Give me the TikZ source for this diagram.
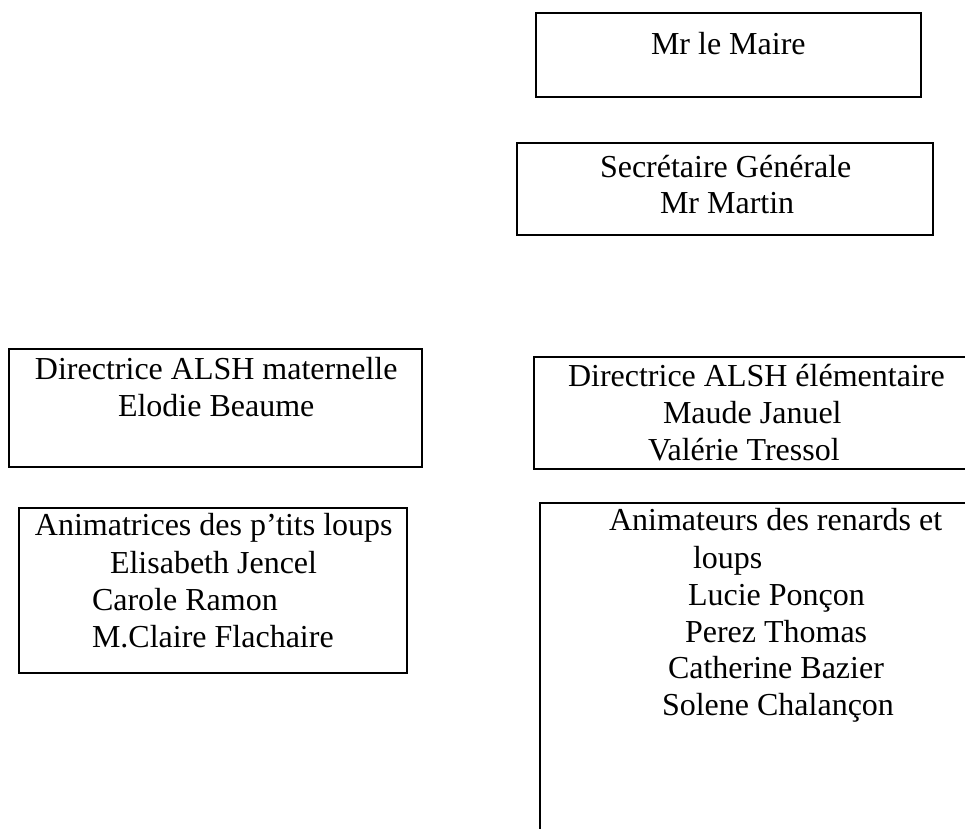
\documentclass[tikz,border=0pt]{standalone}
\usepackage{fontspec}
\setmainfont{Liberation Serif}
\usetikzlibrary{fit}
\begin{document}
\begin{tikzpicture}[x=0.75pt,y=-0.75pt,
  box/.style={draw=black, line width=1.8pt, rectangle, inner sep=0pt, outer sep=0pt},
  txt/.style={anchor=base west, inner sep=0pt, outer sep=0pt, font=\fontsize{24pt}{28pt}\selectfont}]
\useasboundingbox (0,0) rectangle (965,829);
\clip (0,0) rectangle (965,829);
% boxes
\node[box, fit={(536,13) (921,97)}] (maire) {};
\node[box, fit={(517,143) (933,235)}] (sec) {};
\node[box, fit={(9,349) (422,467)}] (dmat) {};
\node[box, fit={(534,357) (970,469)}] (delem) {};
\node[box, fit={(19,508) (407,673)}] (anim1) {};
\node[box, fit={(540,503) (1010,900)}] (anim2) {};
% texts
\node[txt] (t1) at (651,54) {Mr le Maire};
\node[txt] (t2) at (600,177) {Secrétaire Générale};
\node[txt] (t3) at (660,213) {Mr Martin};
\node[txt] (t4) at (35,379) {Directrice ALSH maternelle};
\node[txt] (t5) at (118,416) {Elodie Beaume};
\node[txt] (t6) at (568,386) {Directrice ALSH élémentaire};
\node[txt] (t7) at (663,423) {Maude Januel};
\node[txt] (t8) at (648,460) {Valérie Tressol};
\node[txt] (t9) at (35,535) {Animatrices des p’tits loups};
\node[txt] (t10) at (110,573) {Elisabeth Jencel};
\node[txt] (t11) at (92,610) {Carole Ramon};
\node[txt] (t12) at (92,647) {M.Claire Flachaire};
\node[txt] (t13) at (609,530) {Animateurs des renards et};
\node[txt] (t14) at (693,568) {loups};
\node[txt] (t15) at (688,605) {Lucie Ponçon};
\node[txt] (t16) at (685,642) {Perez Thomas};
\node[txt] (t17) at (668,678) {Catherine Bazier};
\node[txt] (t18) at (662,715) {Solene Chalançon};
\end{tikzpicture}
\end{document}
